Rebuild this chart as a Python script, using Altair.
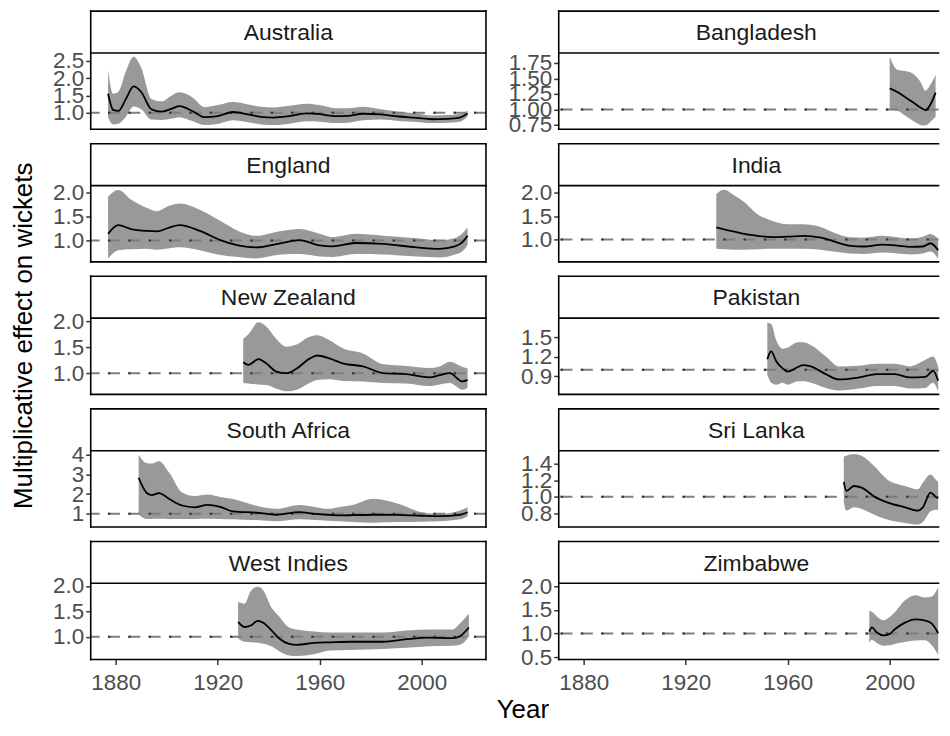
import altair as alt
import pandas as pd

countries = ["Australia", "Bangladesh", "England", "India", "New Zealand",
             "Pakistan", "South Africa", "Sri Lanka", "West Indies", "Zimbabwe"]

aus_year = [1877, 1879, 1881, 1884, 1887, 1890, 1894, 1898, 1902, 1905, 1910, 1915, 1920, 1926, 1932,
            1937, 1942, 1948, 1955, 1960, 1966, 1971, 1977, 1984, 1991, 1998, 2004, 2010, 2015, 2018]
aus_est = [1.55, 1.08, 1.05, 1.40, 1.76, 1.60, 1.10, 1.03, 1.12, 1.19, 1.05, 0.87, 0.90, 1.02, 0.95,
           0.88, 0.86, 0.90, 0.98, 0.96, 0.90, 0.91, 0.97, 0.95, 0.89, 0.85, 0.81, 0.82, 0.86, 0.98]
aus_hi = [2.23, 1.55, 1.60, 2.20, 2.62, 2.30, 1.40, 1.33, 1.50, 1.59, 1.45, 1.16, 1.22, 1.31, 1.24,
          1.17, 1.15, 1.20, 1.26, 1.22, 1.13, 1.13, 1.17, 1.10, 1.03, 0.98, 0.92, 0.93, 0.96, 1.06]
aus_lo = [0.86, 0.66, 0.68, 0.88, 1.18, 1.10, 0.80, 0.79, 0.83, 0.87, 0.76, 0.64, 0.67, 0.78, 0.72,
          0.66, 0.64, 0.68, 0.75, 0.74, 0.70, 0.71, 0.78, 0.80, 0.76, 0.73, 0.70, 0.71, 0.74, 0.90]

ban_year = [2000, 2003, 2006, 2009, 2012, 2014, 2016, 2018]
ban_est = [1.34, 1.28, 1.20, 1.12, 1.03, 0.99, 1.08, 1.27]
ban_hi = [1.85, 1.64, 1.62, 1.58, 1.45, 1.30, 1.40, 1.56]
ban_lo = [0.99, 0.98, 0.90, 0.82, 0.75, 0.74, 0.80, 0.88]

eng_year = [1877, 1881, 1886, 1892, 1896, 1901, 1905, 1913, 1921, 1928, 1935, 1945, 1952, 1960, 1965,
            1974, 1985, 1998, 2007, 2013, 2016, 2018]
eng_est = [1.14, 1.32, 1.24, 1.20, 1.19, 1.27, 1.32, 1.20, 1.01, 0.90, 0.86, 0.95, 1.01, 0.90, 0.88,
           0.95, 0.93, 0.86, 0.83, 0.88, 0.97, 1.10]
eng_hi = [1.91, 2.05, 1.85, 1.68, 1.61, 1.72, 1.77, 1.64, 1.41, 1.20, 1.10, 1.20, 1.24, 1.14, 1.07,
          1.14, 1.10, 1.05, 1.01, 1.05, 1.15, 1.27]
eng_lo = [0.63, 0.80, 0.82, 0.83, 0.81, 0.84, 0.86, 0.80, 0.70, 0.66, 0.63, 0.71, 0.72, 0.67, 0.66,
          0.72, 0.71, 0.67, 0.65, 0.71, 0.78, 0.91]

ind_year = [1932, 1935, 1939, 1943, 1948, 1954, 1960, 1966, 1973, 1978, 1984, 1990, 1997, 2003, 2008,
            2013, 2016, 2019]
ind_est = [1.26, 1.22, 1.17, 1.12, 1.08, 1.05, 1.06, 1.08, 1.04, 0.96, 0.87, 0.85, 0.89, 0.87, 0.84,
           0.85, 0.92, 0.77]
ind_hi = [1.98, 2.07, 1.95, 1.80, 1.55, 1.40, 1.33, 1.33, 1.27, 1.15, 1.05, 1.04, 1.08, 1.05, 1.02,
          1.06, 1.12, 1.02]
ind_lo = [0.80, 0.79, 0.78, 0.78, 0.79, 0.80, 0.80, 0.80, 0.78, 0.74, 0.70, 0.69, 0.72, 0.70, 0.68,
          0.70, 0.74, 0.59]

nz_year = [1930, 1932, 1936, 1939, 1943, 1947, 1951, 1956, 1959, 1964, 1969, 1977, 1985, 1994, 2003,
           2007, 2011, 2016, 2018]
nz_est = [1.21, 1.16, 1.27, 1.19, 1.03, 1.00, 1.09, 1.28, 1.34, 1.28, 1.19, 1.13, 1.00, 0.98, 0.92,
          0.96, 1.00, 0.84, 0.87]
nz_hi = [1.66, 1.75, 1.98, 1.90, 1.66, 1.51, 1.55, 1.70, 1.73, 1.63, 1.48, 1.38, 1.17, 1.14, 1.10,
         1.13, 1.22, 1.12, 1.09]
nz_lo = [0.81, 0.80, 0.78, 0.77, 0.70, 0.65, 0.68, 0.81, 0.87, 0.88, 0.85, 0.84, 0.81, 0.80, 0.75,
         0.78, 0.81, 0.68, 0.72]

pak_year = [1952, 1953.5, 1955.5, 1958, 1960, 1964, 1966, 1969, 1975, 1980, 1988, 1995, 2002, 2008,
            2014, 2017, 2019]
pak_est = [1.16, 1.28, 1.13, 1.02, 0.97, 1.04, 1.07, 1.05, 0.93, 0.85, 0.88, 0.93, 0.93, 0.88, 0.89,
           0.98, 0.83]
pak_hi = [1.72, 1.70, 1.45, 1.32, 1.34, 1.42, 1.42, 1.38, 1.20, 1.05, 1.06, 1.09, 1.09, 1.05, 1.15,
          1.20, 1.05]
pak_lo = [0.92, 0.80, 0.77, 0.80, 0.77, 0.82, 0.82, 0.80, 0.72, 0.68, 0.71, 0.75, 0.75, 0.71, 0.72,
          0.80, 0.67]

sa_year = [1889, 1892, 1894, 1897, 1901, 1906, 1911, 1916, 1921, 1926, 1936, 1943, 1952, 1958, 1963,
           1968, 1973, 1981, 1991, 2000, 2007, 2015, 2018]
sa_est = [2.83, 2.08, 1.95, 2.05, 1.75, 1.42, 1.33, 1.45, 1.35, 1.12, 1.05, 0.95, 1.08, 1.00, 0.95,
          0.92, 0.93, 0.95, 0.94, 0.90, 0.88, 0.95, 1.08]
sa_hi = [4.00, 3.58, 3.55, 3.67, 3.08, 2.08, 1.90, 1.98, 1.85, 1.75, 1.38, 1.25, 1.45, 1.35, 1.25,
         1.35, 1.45, 1.76, 1.50, 1.08, 1.00, 1.17, 1.33]
sa_lo = [0.98, 0.74, 0.74, 0.75, 0.74, 0.73, 0.74, 0.75, 0.74, 0.72, 0.67, 0.62, 0.72, 0.68, 0.65,
         0.62, 0.58, 0.55, 0.58, 0.60, 0.62, 0.72, 0.88]

sl_year = [1982, 1983, 1986, 1989, 1994, 1999, 2006, 2011, 2013, 2016, 2018, 2019]
sl_est = [1.18, 1.07, 1.13, 1.11, 1.00, 0.93, 0.87, 0.83, 0.87, 1.05, 1.00, 0.98]
sl_hi = [1.49, 1.50, 1.52, 1.50, 1.37, 1.21, 1.13, 1.09, 1.17, 1.27, 1.21, 1.18]
sl_lo = [0.93, 0.83, 0.87, 0.85, 0.78, 0.72, 0.68, 0.66, 0.69, 0.82, 0.84, 0.84]

wi_year = [1928, 1930.5, 1933, 1935.7, 1938, 1941, 1944, 1948, 1951, 1958, 1964, 1972, 1985, 1994,
           2003, 2012, 2015, 2018.5]
wi_est = [1.29, 1.19, 1.22, 1.31, 1.27, 1.13, 0.97, 0.86, 0.84, 0.88, 0.89, 0.90, 0.90, 0.95, 0.98,
          0.97, 1.01, 1.18]
wi_hi = [1.68, 1.65, 1.90, 1.98, 1.90, 1.58, 1.40, 1.18, 1.14, 1.10, 1.08, 1.08, 1.08, 1.12, 1.14,
         1.14, 1.26, 1.45]
wi_lo = [0.97, 0.90, 0.89, 0.88, 0.86, 0.81, 0.72, 0.63, 0.62, 0.66, 0.73, 0.74, 0.76, 0.78, 0.81,
         0.82, 0.84, 1.00]

zim_year = [1992, 1993, 1995, 1997.5, 2000, 2002, 2006, 2010, 2014, 2016.5, 2019]
zim_est = [1.04, 1.13, 1.02, 0.96, 0.99, 1.09, 1.23, 1.30, 1.27, 1.21, 1.01]
zim_hi = [1.48, 1.46, 1.36, 1.28, 1.35, 1.45, 1.70, 1.81, 1.76, 1.78, 1.98]
zim_lo = [0.80, 0.87, 0.80, 0.74, 0.75, 0.78, 0.82, 0.85, 0.86, 0.75, 0.55]

series = {
    "Australia": (aus_year, aus_est, aus_lo, aus_hi),
    "Bangladesh": (ban_year, ban_est, ban_lo, ban_hi),
    "England": (eng_year, eng_est, eng_lo, eng_hi),
    "India": (ind_year, ind_est, ind_lo, ind_hi),
    "New Zealand": (nz_year, nz_est, nz_lo, nz_hi),
    "Pakistan": (pak_year, pak_est, pak_lo, pak_hi),
    "South Africa": (sa_year, sa_est, sa_lo, sa_hi),
    "Sri Lanka": (sl_year, sl_est, sl_lo, sl_hi),
    "West Indies": (wi_year, wi_est, wi_lo, wi_hi),
    "Zimbabwe": (zim_year, zim_est, zim_lo, zim_hi),
}

# free y scales: domain and tick labels per panel
y_domain = {
    "Australia": [0.52, 2.73], "Bangladesh": [0.68, 1.91], "England": [0.56, 2.14],
    "India": [0.52, 2.16], "New Zealand": [0.59, 2.06], "Pakistan": [0.62, 1.79],
    "South Africa": [0.33, 4.2], "Sri Lanka": [0.63, 1.56], "West Indies": [0.55, 2.05],
    "Zimbabwe": [0.45, 2.06],
}
y_ticks = {
    "Australia": [1.0, 1.5, 2.0, 2.5], "Bangladesh": [0.75, 1.0, 1.25, 1.5, 1.75],
    "England": [1.0, 1.5, 2.0], "India": [1.0, 1.5, 2.0], "New Zealand": [1.0, 1.5, 2.0],
    "Pakistan": [0.9, 1.2, 1.5], "South Africa": [1, 2, 3, 4], "Sri Lanka": [0.8, 1.0, 1.2, 1.4],
    "West Indies": [1.0, 1.5, 2.0], "Zimbabwe": [0.5, 1.0, 1.5, 2.0],
}
y_format = {c: ".1f" for c in countries}
y_format["Bangladesh"] = ".2f"
y_format["South Africa"] = "d"

x_ticks = [1880, 1920, 1960, 2000]
ref_value = [1.0]

W_FULL = 396.5           # full panel width
W_RIGHT = 381            # right column is cut by the page edge
H = 76.5                 # plot height
STRIP = 42               # strip height
ROW_PITCH = 132.5
COL_GAP = 72.5
X0 = 1870.2
PX_PER_YEAR = W_FULL / 155.0
FONT = "Liberation Sans"
BORDER = 1.6


def panel(name, col, bottom):
    yrs, est, lo, hi = series[name]
    df = pd.DataFrame({"year": yrs, "est": est, "lo": lo, "hi": hi})
    W = W_FULL if col == 0 else W_RIGHT
    xscale = alt.Scale(domain=[X0, X0 + W / PX_PER_YEAR], nice=False, zero=False)
    yscale = alt.Scale(domain=y_domain[name], nice=False, zero=False)
    if name == "New Zealand":
        yaxis = alt.Axis(values=y_ticks[name], format=y_format[name],
                         title="Multiplicative effect on wickets",
                         titleX=-54.3, titleY=17.25, titleAngle=-90,
                         titleBaseline="bottom", titleAlign="center")
    else:
        yaxis = alt.Axis(values=y_ticks[name], format=y_format[name], title=None)
    if bottom:
        if name == "West Indies":
            xaxis = alt.Axis(values=x_ticks, format="d", title="Year",
                             titleX=433, titleY=37, titleBaseline="top", titleAlign="center")
        else:
            xaxis = alt.Axis(values=x_ticks, format="d", title=None)
    else:
        xaxis = None

    strip_df = pd.DataFrame({"country": [name]})
    strip = alt.Chart(strip_df).mark_rect(fill="white", strokeWidth=0).encode(
        x=alt.value(0), x2=alt.value(W), y=alt.value(-STRIP), y2=alt.value(0))
    strip_txt = alt.Chart(strip_df).mark_text(
        font=FONT, fontSize=23, color="#1A1A1A", baseline="alphabetic", align="center"
    ).encode(x=alt.value(W_FULL / 2), y=alt.value(-12.8), text="country:N")

    xenc = alt.X("year:Q", scale=xscale, axis=xaxis)
    band = alt.Chart(df).mark_area(color="#999999", interpolate="monotone").encode(
        x=xenc, y=alt.Y("lo:Q", scale=yscale, axis=yaxis), y2="hi:Q")
    ref_df = pd.DataFrame({"ref": ref_value})
    ref1 = alt.Chart(ref_df).mark_rule(
        color="#7F7F7F", strokeWidth=2, strokeDash=[12, 8.4]
    ).encode(y=alt.Y("ref:Q", scale=yscale, axis=yaxis))
    ref2 = alt.Chart(ref_df).mark_rule(
        color="#333333", strokeWidth=2, strokeDash=[2.4, 18], strokeDashOffset=10.8
    ).encode(y=alt.Y("ref:Q", scale=yscale, axis=yaxis))
    line = alt.Chart(df).mark_line(color="black", strokeWidth=1.8, interpolate="monotone").encode(
        x=xenc, y=alt.Y("est:Q", scale=yscale, axis=yaxis))

    # frame of strip + panel (right column has no right edge: cut off by the page)
    def hrule(yv):
        return alt.Chart(strip_df).mark_rule(color="black", strokeWidth=BORDER, strokeCap="square").encode(
            x=alt.value(0), x2=alt.value(W), y=alt.value(yv))

    def vrule(xv):
        return alt.Chart(strip_df).mark_rule(color="black", strokeWidth=BORDER, strokeCap="square").encode(
            x=alt.value(xv), y=alt.value(-STRIP), y2=alt.value(H))

    frame = [hrule(-STRIP), hrule(0), hrule(H), vrule(0)]
    if col == 0:
        frame.append(vrule(W))

    return alt.layer(strip, strip_txt, band, ref1, ref2, line, *frame).properties(width=W, height=H)


panels = [panel(c, col=i % 2, bottom=(i >= 8)) for i, c in enumerate(countries)]

# bounds="flush": spacing is measured between plot areas
chart = alt.concat(
    *panels, columns=2, spacing={"row": ROW_PITCH - H, "column": COL_GAP},
    bounds="flush", align="each"
).properties(
    padding={"left": 2, "top": 0, "right": 0, "bottom": 0}
).configure(
    font=FONT
).configure_view(
    stroke="transparent", strokeWidth=0
).configure_axis(
    labelFont=FONT, labelFontSize=22.5, labelColor="#4D4D4D",
    tickColor="#333333", tickWidth=1.5, tickSize=5,
    domain=False, grid=False, labelOverlap=False, labelFlush=False,
    titleFont=FONT, titleFontSize=26, titleColor="black", titleFontWeight="normal"
).configure_axisX(
    labelPadding=7
).configure_axisY(
    labelPadding=2
)

chart.save("out.html", embed_options={"renderer": "svg", "actions": False})
